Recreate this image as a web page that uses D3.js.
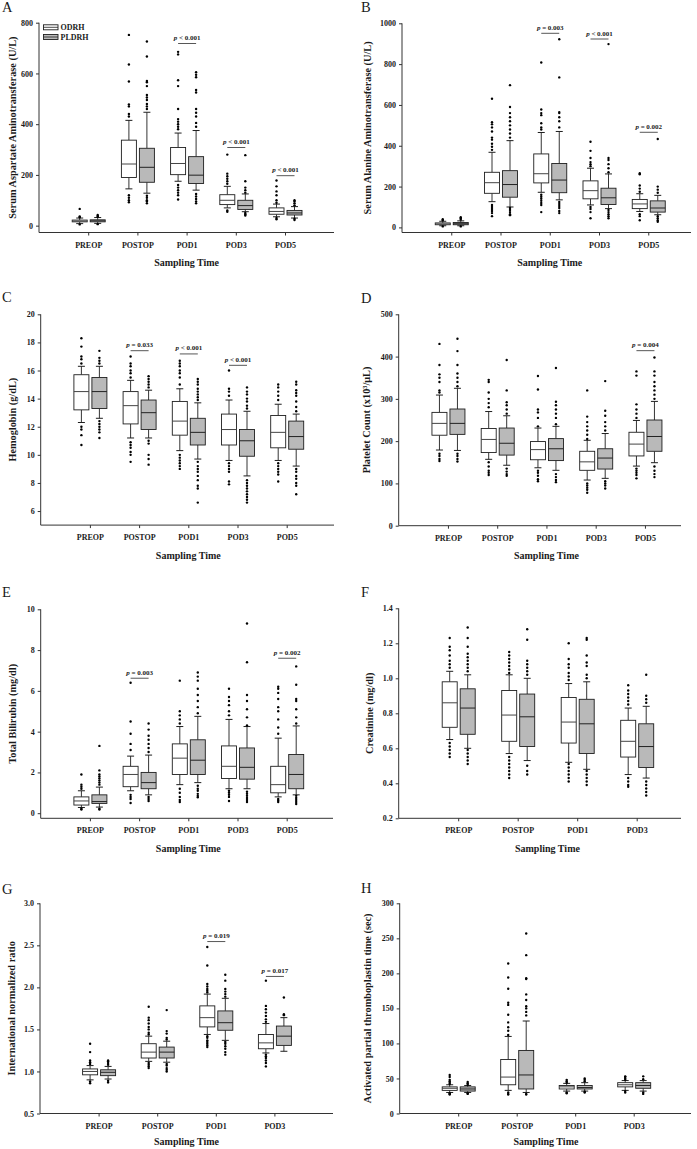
<!DOCTYPE html>
<html><head><meta charset="utf-8">
<script src="https://cdn.jsdelivr.net/npm/d3@7"></script>
<style>
body{margin:0;background:#fff}
svg{display:block}
text{font-family:"Liberation Serif","Times New Roman",serif;fill:#1a1a1a}
</style>
</head><body>
<svg id="chart" width="697" height="1149"></svg>
<script>
// ---------- shared ----------
const cats5 = ["PREOP","POSTOP","POD1","POD3","POD5"];
const cats4 = ["PREOP","POSTOP","POD1","POD3"];
const seriesNames = ["ODRH","PLDRH"];
const xTitle = "Sampling Time";

// box arrays: [lowerWhisker, q1, median, q3, upperWhisker]
// ---------- A: AST ----------
const ticksA = [0,200,400,600,800];
const boxOdrhA = [[8,15,18,22,30],[145,190,243,337,415],[175,201,245,308,365],[70,83,100,122,155],[35,45,56,70,85]];
const outOdrhA = [[5,33,36,66],[92,100,110,120,430,440,470,478,568,635,752],[103,120,130,140,150,160,380,390,400,410,420,460,550,573,675,685],[55,60,165,175,185,195,205,280],[25,30,90,100,120,135,155,178]];
const boxPldrhA = [[9,15,19,23,32],[128,171,230,305,447],[140,166,199,272,375],[55,64,79,100,125],[30,42,50,60,75]];
const outPldrhA = [[6,35,38,42],[88,95,100,110,118,460,470,480,495,505,515,550,565,570,667,726],[88,95,105,115,125,390,405,430,445,460,525,535,585,595,605],[40,45,50,130,140,150,175,278],[22,27,80,88,95,100]];
const pA = [["POD1","< 0.001",718],["POD3","< 0.001",308],["POD5","< 0.001",197]];

// ---------- B: ALT ----------
const ticksB = [0,200,400,600,800,1000];
const boxOdrhB = [[8,13,17,22,30],[126,167,219,270,368],[172,218,263,360,465],[110,140,180,228,290],[78,92,115,137,165]];
const outOdrhB = [[5,35,40],[55,70,80,90,100,110,380,395,410,430,440,470,490,505,515,630],[75,110,120,130,140,150,160,480,490,510,550,560,578,808],[45,75,90,100,300,310,320,340,375,420],[35,55,65,175,190,205,260,265]];
const boxPldrhB = [[8,13,18,24,32],[100,148,210,278,425],[135,170,232,313,470],[92,112,145,192,262],[62,75,95,130,157]];
const outPldrhB = [[5,38,45,50],[60,65,75,85,95,440,460,480,500,520,540,560,590,697],[70,80,95,105,115,125,490,520,540,560,565,735,922],[45,55,65,75,85,270,290,310,330,340,898],[28,35,45,55,170,185,200,433]];
const pB = [["POD1","= 0.003",951],["POD3","< 0.001",923],["POD5","= 0.002",466]];

// ---------- C: Hemoglobin ----------
const ticksC = [6,8,10,12,14,16,18,20];
const boxOdrhC = [[12.3,13.2,14.5,15.7,16.3],[11.2,12.2,13.5,14.5,15.3],[10.3,11.4,12.4,13.8,14.7],[9.6,10.7,11.8,12.9,13.9],[9.6,10.5,11.6,12.8,13.6]];
const outOdrhC = [[10.7,11.4,11.8,12.0,16.5,16.8,17.0,17.7,18.3],[9.5,10.0,10.2,10.5,10.7,10.9,15.5,15.8,16.0,16.3,16.5,17.0],[9.0,9.2,9.4,9.6,9.8,10.0,15.0,15.5,15.8,16.0,16.3,16.5,16.7],[7.9,8.1,8.8,9.0,9.2,9.4,14.2,14.5,14.7,16.0],[8.1,8.6,8.8,9.0,9.2,9.4,13.9,14.2,14.5,14.8,15.0]];
const boxPldrhC = [[12.6,13.3,14.5,15.5,16.3],[11.2,11.8,13.0,13.9,14.6],[9.7,10.7,11.6,12.6,13.7],[8.5,9.9,11.0,11.8,13.1],[9.2,10.4,11.3,12.4,12.9]];
const outPldrhC = [[11.2,11.6,11.8,12.0,12.2,12.4,16.5,16.7,16.9,17.4],[9.3,9.7,10.0,10.8,11.0,14.8,15.0,15.2,15.4,15.6],[6.6,7.6,7.8,8.2,8.5,8.8,9.0,9.2,9.5,13.9,14.1,14.3,14.5,14.7,15.0,15.2,15.4],[6.6,6.8,7.0,7.2,7.4,7.6,7.8,8.0,8.2,13.3,13.5,13.8,14.0,14.3,14.5,14.8],[7.2,7.8,8.0,8.3,8.5,8.8,9.0,13.1,13.4,13.8,14.2,14.4,14.6,15.0,15.2]];
const pC = [["POSTOP","= 0.033",17.41],["POD1","< 0.001",17.18],["POD3","< 0.001",16.37]];

// ---------- D: Platelet ----------
const ticksD = [0,100,200,300,400,500];
const boxOdrhD = [[179,214,242,268,309],[157,173,204,230,270],[137,156,180,199,231],[108,131,151,176,202],[141,165,193,221,249]];
const outOdrhD = [[153,158,165,170,315,320,340,350,358,380,430],[120,125,130,140,150,280,290,300,315,340,345],[105,110,118,125,130,235,255,268,275,322,354],[78,85,90,95,100,205,215,225,235,245,258,320],[112,120,125,130,135,255,265,275,287,355,365]];
const boxPldrhD = [[178,216,242,276,325],[143,167,195,231,260],[131,154,182,206,235],[112,134,160,182,218],[149,176,211,250,294]];
const outPldrhD = [[152,158,165,170,330,340,350,360,380,413,442],[118,122,128,135,265,275,285,292,320,392],[103,108,115,122,240,255,265,275,285,293,373],[88,95,100,105,225,235,245,260,272,342],[115,122,130,140,300,310,320,330,340,355,365,398]];
const pD = [["POD5","= 0.004",414]];

// ---------- E: Total bilirubin ----------
const ticksE = [0,2,4,6,8,10];
const boxOdrhE = [[0.28,0.4,0.6,0.8,1.1],[1.1,1.3,1.9,2.3,2.8],[1.4,1.9,2.7,3.4,4.25],[1.2,1.7,2.3,3.3,4.6],[0.8,1.0,1.4,2.3,3.68]];
const outOdrhE = [[0.18,0.22,1.2,1.3,1.4,1.9],[0.5,0.7,0.8,0.9,3.1,3.4,3.9,4.5,6.4],[0.55,0.65,0.8,1.0,1.2,4.4,4.6,4.8,5.0,6.5],[0.6,0.8,0.9,1.0,1.1,4.8,5.0,5.3,5.5,5.7,6.1],[0.55,0.62,0.7,3.9,4.2,4.6,5.0,5.2,5.6,5.9,6.1,6.2]];
const boxPldrhE = [[0.3,0.48,0.57,0.9,1.28],[0.9,1.2,1.5,2.0,2.85],[1.5,1.9,2.6,3.6,4.75],[1.2,1.67,2.25,3.2,4.25],[0.9,1.2,1.9,2.88,4.28]];
const outPldrhE = [[0.18,0.22,1.4,1.5,1.6,1.7,1.8,1.9,2.1,3.3],[0.6,0.7,0.8,3.0,3.2,3.4,3.6,3.8,4.1,4.4],[0.78,0.85,0.95,1.1,1.2,1.35,4.9,5.2,5.5,5.8,6.1,6.5,6.7,6.9],[0.55,0.65,0.75,0.85,0.95,1.05,4.3,4.7,5.1,5.5,5.8,7.4,9.3],[0.45,0.55,0.65,0.75,0.85,4.4,4.7,5.1,5.5,5.6,6.3,7.2]];
const pE = [["POSTOP","= 0.003",6.62],["POD5","= 0.002",7.6]];

// ---------- F: Creatinine ----------
const ticksF = [0.2,0.4,0.6,0.8,1.0,1.2,1.4];
const boxOdrhF = [[0.65,0.72,0.86,0.98,1.04],[0.57,0.64,0.79,0.93,1.02],[0.52,0.63,0.75,0.89,0.97],[0.45,0.55,0.64,0.76,0.83]];
const outOdrhF = [[0.55,0.57,0.59,0.61,0.63,1.06,1.08,1.1,1.13,1.16,1.18,1.23],[0.43,0.45,0.47,0.49,0.51,0.53,0.55,1.03,1.05,1.07,1.09,1.11,1.13,1.15],[0.41,0.43,0.45,0.47,0.49,0.51,0.99,1.01,1.03,1.06,1.08,1.11,1.2],[0.38,0.39,0.41,0.43,0.85,0.87,0.89,0.91,0.93,0.96]];
const boxPldrhF = [[0.6,0.68,0.83,0.94,1.02],[0.53,0.61,0.78,0.91,1.0],[0.48,0.57,0.74,0.88,0.98],[0.43,0.49,0.61,0.74,0.84]];
const outPldrhF = [[0.51,0.53,0.55,0.57,0.59,1.04,1.06,1.08,1.1,1.12,1.14,1.18,1.23,1.29],[0.45,0.47,0.5,1.02,1.04,1.06,1.08,1.1,1.22,1.28],[0.39,0.41,0.43,0.45,0.47,1.0,1.02,1.07,1.09,1.13,1.22,1.23],[0.33,0.35,0.37,0.39,0.41,0.86,0.88,0.9,1.02]];
const pF = [];

// ---------- G: INR ----------
const ticksG = [0.5,1.0,1.5,2.0,2.5,3.0];
const boxOdrhG = [[0.9,0.96,1.0,1.03,1.07],[1.12,1.16,1.23,1.33,1.42],[1.44,1.53,1.64,1.78,1.92],[1.22,1.27,1.34,1.44,1.57]];
const outOdrhG = [[0.86,0.88,1.09,1.11,1.13,1.23,1.33],[1.04,1.06,1.08,1.1,1.44,1.46,1.5,1.53,1.57,1.61,1.64,1.77],[1.29,1.31,1.33,1.35,1.37,1.4,1.42,1.94,1.96,1.98,2.01,2.04,2.26,2.48],[1.06,1.1,1.13,1.16,1.18,1.2,1.59,1.62,1.66,1.7,1.74,1.78,2.08]];
const boxPldrhG = [[0.91,0.95,0.99,1.02,1.06],[1.11,1.16,1.23,1.29,1.36],[1.37,1.49,1.58,1.72,1.87],[1.24,1.31,1.42,1.54,1.64]];
const outPldrhG = [[0.87,0.89,1.08,1.1,1.12,1.13],[1.0,1.02,1.04,1.07,1.09,1.38,1.4,1.45,1.48,1.73],[1.2,1.23,1.27,1.3,1.33,1.35,1.89,1.92,1.95,1.98,2.08,2.15],[1.67,1.68,1.88]];
const pG = [["POD1","= 0.019",2.545],["POD3","= 0.017",2.13]];

// ---------- H: APTT ----------
const ticksH = [0,50,100,150,200,250,300];
const boxOdrhH = [[30,33,36,38,41],[33,41,52,77,110],[32,35,38,40,43],[33,38,41,44,47]];
const outOdrhH = [[27,28,29,42,44,46,48,52,55],[27,28,30,112,118,123,130,141,155,158,178,194,214],[29,30,44,46,48],[30,32,48,50,52,53]];
const boxPldrhH = [[30,32,35,38,40],[30,35,55,90,132],[32,35,37,40,44],[32,36,40,44,47]];
const outPldrhH = [[28,29,41,43,45],[27,28,140,145,150,153,162,170,192,193,226,257],[30,31,46,48,50],[28,30,49,53]];
const pH = [];

// ---------- panels (layout + references to data) ----------
const fmtInt = d3.format("d"), fmt1 = d3.format(".1f");
const panels = [
 {id:"A", cats:cats5, ticks:ticksA, fmt:fmtInt, box:[boxOdrhA,boxPldrhA], out:[outOdrhA,outPldrhA], p:pA,
  title:"Serum Aspartate Aminotransferase (U/L)", x0:39, step:49.2, xEnd:334, yDom:[-27,800], yBot:232.5, yTop:22.7, tx:12, lx:2, ly:12, tOff:33.5, legend:true},
 {id:"B", cats:cats5, ticks:ticksB, fmt:fmtInt, box:[boxOdrhB,boxPldrhB], out:[outOdrhB,outPldrhB], p:pB,
  title:"Serum Alanine Aminotransferase (U/L)", x0:402, step:49.25, xEnd:691, yDom:[-25,1000], yBot:232.5, yTop:23.3, tx:367, lx:361, ly:12, tOff:33.5},
 {id:"C", cats:cats5, ticks:ticksC, fmt:fmtInt, box:[boxOdrhC,boxPldrhC], out:[outOdrhC,outPldrhC], p:pC,
  title:"Hemoglobin (g/dL)", x0:40.7, step:49.2, xEnd:334, yDom:[5,20], yBot:525.1, yTop:314.3, tx:12, lx:2, ly:302, tOff:33.5},
 {id:"D", cats:cats5, ticks:ticksD, fmt:fmtInt, box:[boxOdrhD,boxPldrhD], out:[outOdrhD,outPldrhD], p:pD,
  title:"Platelet Count (x10\u00B3/\u03BCL)", x0:398.7, step:49.25, xEnd:681, yDom:[0,500], yBot:525.7, yTop:314.3, tx:366, lx:361, ly:303, tOff:33.5},
 {id:"E", cats:cats5, ticks:ticksE, fmt:fmtInt, box:[boxOdrhE,boxPldrhE], out:[outOdrhE,outPldrhE], p:pE,
  title:"Total Bilirubin (mg/dl)", x0:40.7, step:49.2, xEnd:333, yDom:[-0.25,10], yBot:818.3, yTop:609.3, tx:12, lx:2, ly:597, tOff:33.5},
 {id:"F", cats:cats4, ticks:ticksF, fmt:fmt1, box:[boxOdrhF,boxPldrhF], out:[outOdrhF,outPldrhF], p:pF,
  title:"Creatinine (mg/dl)", x0:398.7, step:59.5, xEnd:681, yDom:[0.2,1.4], yBot:818.3, yTop:608.3, tx:369, lx:361, ly:597, tOff:33.5},
 {id:"G", cats:cats4, ticks:ticksG, fmt:fmt1, box:[boxOdrhG,boxPldrhG], out:[outOdrhG,outPldrhG], p:pG,
  title:"International normalized ratio", x0:40, step:58.6, xEnd:333, yDom:[0.5,3.0], yBot:1113.5, yTop:903.3, tx:11, lx:2, ly:894, tOff:31},
 {id:"H", cats:cats4, ticks:ticksH, fmt:fmtInt, box:[boxOdrhH,boxPldrhH], out:[outOdrhH,outPldrhH], p:pH,
  title:"Activated partial thromboplastin time (sec)", x0:399.7, step:58.5, xEnd:691, yDom:[0,300], yBot:1113.5, yTop:903.3, tx:367, lx:361, ly:893, tOff:31}
];

const svg = d3.select("#chart");
const fills = ["#ffffff","#b9b9b9"];
const boxOff = [-16, 2], boxW = 15, capHalf = 3.5;
const ink = "#1e1e1e";

function drawPanel(P){
  const g = svg.append("g");
  const n = P.cats.length;
  const x = d3.scalePoint().domain(P.cats).range([P.x0, P.x0 + P.step*(n+1)]).padding(1);
  const y = d3.scaleLinear().domain(P.yDom).range([P.yBot, P.yTop]);

  // y axis
  const ya = g.append("g").attr("transform",`translate(${P.x0},0)`)
    .call(d3.axisLeft(y).tickValues(P.ticks).tickFormat(P.fmt).tickSize(3).tickSizeOuter(0).tickPadding(3));
  ya.select(".domain").attr("d", `M0,${P.yBot}V${P.yTop}`);
  // x axis
  const xa = g.append("g").attr("transform",`translate(0,${P.yBot})`)
    .call(d3.axisBottom(x).tickSize(3).tickSizeOuter(0).tickPadding(6.5));
  xa.select(".domain").attr("d", `M${P.x0},0H${P.xEnd}`);
  [ya,xa].forEach(a=>{
    a.selectAll("path,line").attr("stroke","#333").attr("stroke-width",1);
    a.selectAll("text").attr("font-family","Liberation Serif, serif").attr("font-weight","bold")
      .attr("font-size",8).attr("fill",ink);
  });

  // titles
  g.append("text").attr("x",(P.x0 + P.x0 + P.step*(n+1))/2).attr("y",P.yBot+P.tOff)
    .attr("text-anchor","middle").attr("font-weight","bold").attr("font-size",10).text(xTitle);
  g.append("text").attr("transform",`translate(${P.tx},${(P.yBot+P.yTop)/2}) rotate(-90)`)
    .attr("dy","0.35em").attr("text-anchor","middle").attr("font-weight","bold").attr("font-size",10.3).text(P.title);
  g.append("text").attr("x",P.lx).attr("y",P.ly).attr("font-size",14.5).text(P.id);

  // boxes
  for(let s=0;s<2;s++){
    P.cats.forEach((c,i)=>{
      const b = P.box[s][i];
      const left = x(c) + boxOff[s], cx = left + boxW/2;
      const bg = g.append("g");
      [[b[0],b[1]],[b[3],b[4]]].forEach(([a,bb])=>{
        bg.append("line").attr("x1",cx).attr("x2",cx).attr("y1",y(a)).attr("y2",y(bb)).attr("stroke",ink).attr("stroke-width",0.9);
      });
      [b[0],b[4]].forEach(v=>{
        bg.append("line").attr("x1",cx-capHalf).attr("x2",cx+capHalf).attr("y1",y(v)).attr("y2",y(v)).attr("stroke",ink).attr("stroke-width",1);
      });
      bg.append("rect").attr("x",left).attr("width",boxW).attr("y",y(b[3])).attr("height",y(b[1])-y(b[3]))
        .attr("fill",fills[s]).attr("stroke",ink).attr("stroke-width",0.9);
      bg.append("line").attr("x1",left).attr("x2",left+boxW).attr("y1",y(b[2])).attr("y2",y(b[2]))
        .attr("stroke",s===0?"#444":"#222").attr("stroke-width",1);
      bg.selectAll("circle").data(P.out[s][i]).join("circle")
        .attr("cx",cx).attr("cy",v=>y(v)).attr("r",1.2).attr("fill","#000");
    });
  }

  // p annotations
  P.p.forEach(([c,label,v])=>{
    const cx = x(c);
    const ly = y(v);
    g.append("line").attr("x1",cx-8.5).attr("x2",cx+9.5).attr("y1",ly).attr("y2",ly)
      .attr("stroke","#444").attr("stroke-width",0.9);
    const t = g.append("text").attr("x",cx+0.5).attr("y",ly-3.5).attr("text-anchor","middle")
      .attr("font-size",7).attr("font-weight","bold");
    t.append("tspan").attr("font-style","italic").text("p");
    t.append("tspan").text(" " + label);
  });

  // legend
  if(P.legend){
    seriesNames.forEach((nm,k)=>{
      const ly = 27.3 + k*9.7;
      g.append("rect").attr("x",43.5).attr("y",ly-2.5).attr("width",14.5).attr("height",5)
        .attr("fill",fills[k]).attr("stroke",ink).attr("stroke-width",0.9);
      g.append("line").attr("x1",43.5).attr("x2",58).attr("y1",ly).attr("y2",ly).attr("stroke",ink).attr("stroke-width",0.8);
      g.append("text").attr("x",60.5).attr("y",ly).attr("dy","0.35em").attr("font-size",8).attr("font-weight","bold").text(nm);
    });
  }
}
panels.forEach(drawPanel);
</script>
</body></html>
